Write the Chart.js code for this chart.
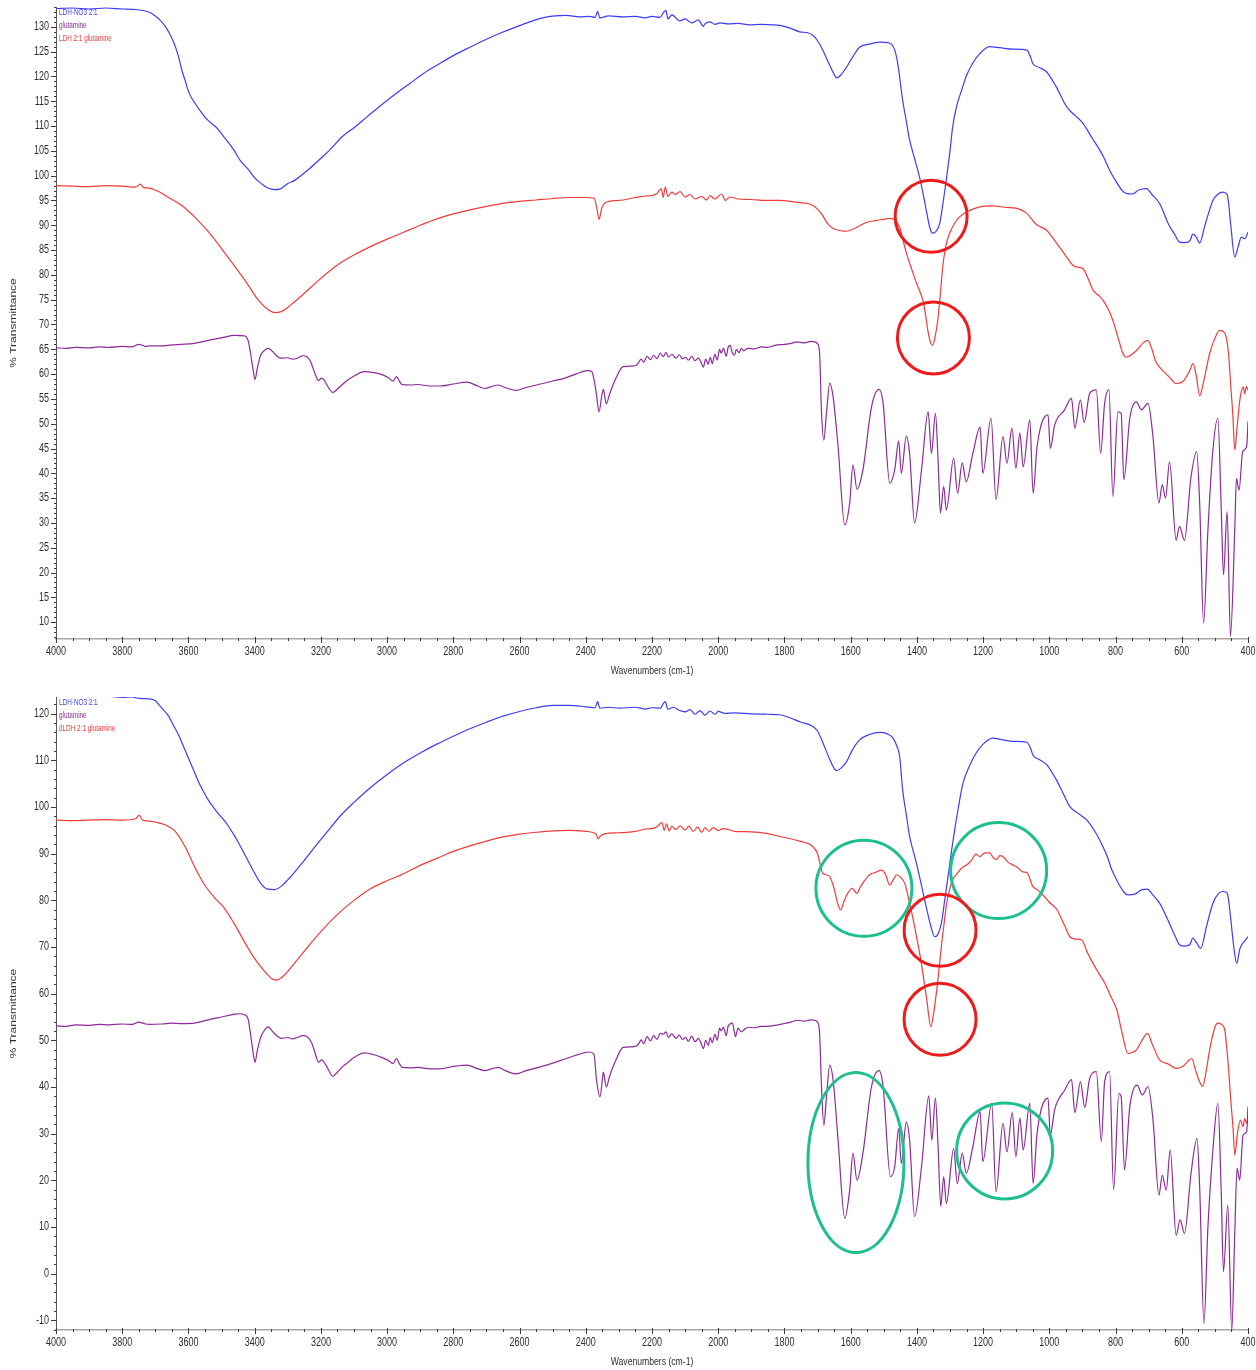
<!DOCTYPE html>
<html>
<head>
<meta charset="utf-8">
<title>FTIR spectra</title>
<script src="https://cdn.jsdelivr.net/npm/chart.js@4.4.1/dist/chart.umd.min.js"></script>
<style>
  html, body { margin: 0; padding: 0; background: #fff; }
  #wrap { position: relative; width: 1256px; height: 1370px; overflow: hidden; }
  .panel { position: absolute; left: 0; width: 1256px; height: 685px; }
</style>
</head>
<body>
<div id="wrap">
  <div class="panel" style="top:0"><canvas id="topChart" width="1256" height="685"></canvas></div>
  <div class="panel" style="top:685px"><canvas id="bottomChart" width="1256" height="685"></canvas></div>
</div>
<script>
// ---- series names ----
const topNames = ['LDH-NO3 2:1', 'glutamine', 'LDH 2:1 glutamine'];
const bottomNames = ['LDH-NO3 2:1', 'glutamine', 'dLDH 2:1 glutamine'];
const xTitle = 'Wavenumbers (cm-1)';
const yTitle = '% Transmittance';

// ---- tick values ----
const xTickValues = [4000, 3800, 3600, 3400, 3200, 3000, 2800, 2600, 2400, 2200, 2000, 1800, 1600, 1400, 1200, 1000, 800, 600, 400];
const topYTickValues = [10, 15, 20, 25, 30, 35, 40, 45, 50, 55, 60, 65, 70, 75, 80, 85, 90, 95, 100, 105, 110, 115, 120, 125, 130];
const bottomYTickValues = [-10, 0, 10, 20, 30, 40, 50, 60, 70, 80, 90, 100, 110, 120];

// ---- upper panel spectra: [wavenumber, %T] ----
const topNitrate = [[4000,133.7],[3950,133.8],[3900,133.6],[3850,133.8],[3800,133.6],[3760,133.5],[3730,133.2],[3716,132.9],[3700,132.2],[3685,131.3],[3671,130.2],[3655,128.4],[3641,126.3],[3630,124],[3620,121.3],[3610,119.2],[3601,117.2],[3590,115.6],[3580,114.6],[3565,113.1],[3550,111.8],[3535,110.8],[3520,110],[3505,108.9],[3490,107.6],[3465,105.4],[3444,103.1],[3420,101.3],[3399,99.5],[3380,98.4],[3360,97.5],[3340,97.2],[3324,97.3],[3300,98.4],[3278,99.1],[3255,100.3],[3233,101.5],[3200,103.5],[3173,105.2],[3135,107.9],[3097,109.8],[3060,111.9],[3022,114],[2980,116.2],[2931,118.6],[2890,120.6],[2841,122.6],[2800,124.2],[2750,125.9],[2700,127.5],[2659,128.7],[2610,130],[2569,131],[2530,131.8],[2493,132.2],[2460,132.3],[2418,132],[2390,132.1],[2372,131.9],[2364,133.1],[2358,131.8],[2330,132.2],[2290,132],[2250,132.1],[2220,131.8],[2200,132.1],[2176,131.9],[2165,132.9],[2158,133.3],[2152,131.6],[2140,132.4],[2116,131.2],[2100,131.6],[2080,130.8],[2060,131.4],[2045,130.1],[2040,130.6],[2025,131],[2010,130.5],[1995,130.8],[1970,130.6],[1940,130.7],[1905,130.4],[1874,130.5],[1840,130.4],[1814,130.3],[1785,129.8],[1754,129],[1730,128.8],[1714,128.3],[1700,127.2],[1684,125.3],[1665,122.5],[1650,120.4],[1642,119.7],[1630,120.3],[1612,121.9],[1595,123.8],[1573,125.9],[1545,126.5],[1512,126.9],[1482,126.7],[1468,125.5],[1458,122.7],[1443,115.2],[1432,111],[1422,107.2],[1405,103],[1392,99.7],[1380,96],[1370,92.4],[1360,89.3],[1352,88.4],[1342,88.8],[1331,90.4],[1320,95],[1310,99.7],[1300,105],[1292,109.8],[1280,114],[1265,117.2],[1250,120.2],[1231,122.7],[1210,124.6],[1180,126],[1150,125.8],[1110,125.5],[1068,125.3],[1055,123.6],[1050,122.6],[1030,121.8],[1008,120.9],[980,118],[947,113.8],[920,112],[899,110.6],[870,107.5],[848,105.2],[835,103.6],[818,101.1],[800,99],[780,97],[767,96.4],[750,96.3],[730,97.1],[707,97.4],[690,96.2],[667,94.4],[640,90.2],[620,88],[607,86.6],[590,86.5],[575,86.9],[567,88.2],[556,87.6],[546,86.4],[530,90],[506,95],[490,96.3],[477,96.7],[465,96.4],[461,95.7],[452,90],[440,83.6],[430,85.6],[420,87.6],[410,87.3],[400,88.6]];

const topGlutamine = [[4000,65.3],[3970,65.2],[3940,65.4],[3900,65.3],[3870,65.5],[3840,65.4],[3800,65.6],[3770,65.5],[3750,66],[3730,65.6],[3716,65.7],[3680,65.7],[3650,65.9],[3620,66],[3582,66.2],[3540,66.8],[3500,67.3],[3460,67.8],[3431,67.7],[3420,66.8],[3413,64.4],[3405,61],[3399,58.9],[3392,61.2],[3382,63.8],[3370,64.8],[3359,65.2],[3345,64.5],[3330,63.5],[3319,63.2],[3300,63.3],[3285,63],[3271,63.2],[3255,63.7],[3242,63.5],[3231,62.5],[3220,60.5],[3207,58.7],[3198,59.2],[3191,58.9],[3180,57.6],[3164,56.3],[3150,57],[3135,57.9],[3123,58.6],[3100,59.6],[3069,60.5],[3040,60.3],[3015,59.9],[2995,59.2],[2982,58.6],[2972,59.5],[2962,58.5],[2955,57.9],[2930,57.8],[2907,57.9],[2870,57.6],[2840,57.6],[2800,58],[2759,58.4],[2730,57.7],[2705,57.1],[2680,57.6],[2665,57.8],[2640,57.2],[2611,56.7],[2580,57.3],[2543,57.9],[2500,58.6],[2463,59.2],[2430,60],[2395,60.7],[2382,60.5],[2374,58.5],[2368,56],[2360,52.4],[2352,55.5],[2347,56.9],[2338,54],[2328,56],[2310,59],[2287,61.5],[2265,61.6],[2247,61.8],[2240,62.4],[2233,63],[2225,62.4],[2215,63.6],[2205,62.9],[2195,63.8],[2185,63.1],[2175,64.2],[2166,63.5],[2158,64.4],[2150,63.4],[2140,64],[2128,63.2],[2118,63.9],[2108,63.1],[2099,63.4],[2090,62.8],[2080,63.6],[2070,62.7],[2060,63.2],[2052,62.4],[2045,61.4],[2038,63],[2030,62],[2024,63.4],[2018,62.1],[2010,64],[2003,62.8],[1996,65],[1991,64.2],[1984,65.2],[1976,63.6],[1970,65.4],[1964,65.8],[1958,64.4],[1951,63.8],[1945,65],[1937,64.3],[1930,65.2],[1923,64.7],[1910,65.2],[1890,65.1],[1870,65.5],[1850,65.4],[1829,65.8],[1800,66],[1780,66.2],[1762,66.5],[1740,66.3],[1720,66.6],[1708,66.5],[1700,66.1],[1694,64.4],[1688,52.2],[1681,46.7],[1673,52.2],[1663,58.2],[1653,55.4],[1638,45.4],[1618,29.6],[1603,34],[1593,41.7],[1581,36.8],[1563,40.7],[1537,53.4],[1514,56.9],[1502,54.1],[1482,38],[1467,40.7],[1455,46.5],[1447,40],[1432,47.5],[1422,44],[1407,30],[1386,40.7],[1366,52.4],[1356,44],[1344,52.1],[1336,42.7],[1329,32],[1319,37.3],[1311,32.6],[1289,43],[1277,36],[1263,42.1],[1251,38.3],[1231,44],[1209,49.3],[1201,40],[1176,51.1],[1161,34.7],[1140,47.4],[1128,42],[1113,49.1],[1101,41],[1089,48.1],[1079,41.3],[1059,50.8],[1049,36],[1037,45.4],[1004,51.8],[997,45],[984,49.7],[954,52.8],[933,55.1],[923,49.1],[906,54.8],[895,50.2],[878,56.1],[858,56.8],[845,44],[833,54.1],[820,56.8],[808,35.3],[793,52.4],[783,52.1],[775,38.7],[757,51.1],[737,54.4],[722,52.8],[702,54.1],[687,47.4],[669,34],[659,37.7],[649,35],[637,42.3],[617,26.5],[607,29.3],[592,26.5],[572,39.3],[555,44.4],[546,34],[534,9.8],[521,28.6],[506,44.7],[491,51.1],[481,33.3],[474,19.5],[463,32.3],[453,7.1],[440,28.6],[435,39],[427,36.6],[416,44.4],[404,45.4],[400,50.5]];

const topComposite = [[4000,98],[3950,97.9],[3900,97.8],[3850,98],[3800,97.9],[3760,97.7],[3745,98.3],[3735,97.6],[3720,97.5],[3690,96.8],[3660,95.6],[3620,94],[3580,91.6],[3540,88.7],[3500,85.3],[3460,81.7],[3420,78],[3390,75],[3360,73],[3340,72.4],[3320,72.6],[3290,74],[3250,76.3],[3200,79.3],[3150,82],[3100,84],[3050,85.7],[3000,87.2],[2950,88.6],[2900,90],[2850,91.3],[2800,92.3],[2750,93.1],[2700,93.8],[2650,94.4],[2600,94.8],[2550,95.1],[2500,95.4],[2450,95.6],[2400,95.6],[2375,95.5],[2366,93.2],[2360,91.2],[2352,93.4],[2340,94.6],[2300,95],[2250,95.6],[2220,95.9],[2200,96],[2185,96.4],[2172,97.4],[2166,95.6],[2160,97.7],[2152,95.8],[2140,96.7],[2130,96.2],[2115,96.8],[2100,95.7],[2085,96.2],[2070,95.3],[2050,95.8],[2035,95.1],[2025,96],[2010,95.3],[1990,96.3],[1978,95],[1965,95.7],[1940,95.3],[1900,95.2],[1860,95],[1814,95],[1760,94.6],[1714,94],[1690,92.5],[1670,90.4],[1654,89.4],[1630,88.9],[1612,88.8],[1590,89.3],[1551,90.6],[1520,91],[1500,91.2],[1482,91.4],[1465,91],[1452,89.6],[1440,86.5],[1431,84.3],[1415,81],[1401,78.3],[1390,76.5],[1382,74.9],[1375,72.5],[1367,68.8],[1358,66.2],[1352,65.8],[1345,67.5],[1337,70.8],[1330,75.5],[1322,81.6],[1312,86],[1301,88.4],[1285,90.5],[1271,91.7],[1240,93],[1210,93.7],[1171,93.9],[1130,93.6],[1098,93.4],[1068,92.4],[1040,90.2],[1008,89],[990,87.5],[977,86.3],[950,83.8],[928,81.9],[910,81.5],[899,81.3],[880,78.8],[868,76.9],[850,75.8],[838,74.9],[820,72.8],[808,70.8],[790,66.8],[778,64.2],[767,63.4],[750,64],[736,64.8],[715,66.4],[703,66.8],[690,65],[680,62.8],[667,61.4],[640,59.6],[616,58.1],[595,58.6],[576,60.7],[566,62.1],[556,59.6],[546,55.6],[535,58.2],[516,64.1],[500,67.2],[486,68.8],[475,68.6],[466,67.5],[458,63.5],[452,57.5],[446,52],[440,44.7],[434,48.5],[427,53.5],[420,56.5],[414,57.4],[410,56],[405,57.5],[400,56.8]];

// ---- lower panel spectra: [wavenumber, %T] ----
const bottomNitrate = [[4000,123.8],[3950,123.9],[3900,123.7],[3850,123.8],[3800,123.5],[3770,123.6],[3750,123.3],[3720,123.2],[3700,122.8],[3690,122],[3675,120.8],[3660,119.5],[3645,117.5],[3630,115.5],[3615,113],[3600,110.5],[3585,108],[3570,105.5],[3555,103.4],[3540,101.5],[3525,100],[3510,98.6],[3495,97.4],[3480,96],[3465,94.3],[3450,92.5],[3435,90.5],[3420,88.5],[3400,85.8],[3380,83.5],[3360,82.4],[3340,82.3],[3320,83],[3300,84.4],[3280,86],[3260,87.7],[3220,91.3],[3180,94.8],[3140,98.2],[3100,101],[3050,104.2],[3000,107],[2950,109.5],[2900,111.6],[2850,113.5],[2800,115.2],[2750,116.8],[2700,118.2],[2650,119.5],[2600,120.5],[2550,121.3],[2500,121.8],[2450,121.8],[2400,121.5],[2372,121.3],[2364,122.6],[2358,121.2],[2330,121.4],[2300,121.2],[2250,121.4],[2220,121],[2200,121.3],[2175,121.2],[2165,122.3],[2160,122.6],[2152,121],[2135,121.4],[2120,120.8],[2100,120.4],[2085,120.9],[2070,119.9],[2055,120.7],[2040,119.7],[2025,120.6],[2010,119.9],[2000,120.5],[1980,120.1],[1950,120.2],[1900,120],[1850,119.9],[1814,119.8],[1785,119.2],[1754,118.3],[1714,117.3],[1700,116.3],[1684,113.8],[1665,110.5],[1650,108.3],[1642,107.8],[1630,108.3],[1612,109.8],[1595,112.2],[1573,114.4],[1545,115.5],[1512,116],[1490,115.7],[1472,114.8],[1460,113],[1452,110.8],[1443,103.7],[1432,98.4],[1422,93.7],[1405,89],[1392,85.1],[1380,81.2],[1370,78],[1358,74.5],[1346,72.2],[1336,72.8],[1326,75.1],[1316,80],[1306,85.1],[1296,90.3],[1286,95.1],[1275,99.8],[1261,105.1],[1240,109],[1221,111.6],[1200,113.5],[1171,114.8],[1140,114.4],[1110,114.1],[1068,113.9],[1055,112.3],[1050,111.2],[1030,110.2],[1008,109.1],[980,106],[960,103.2],[938,100.1],[910,98.5],[888,97.3],[860,94.5],[838,91.5],[825,89.4],[811,86.5],[790,83.5],[775,81.8],[763,81.2],[740,81.4],[720,82.3],[703,82.4],[690,81.4],[667,79.4],[640,75.5],[620,72.3],[607,70.5],[590,70.2],[575,70.6],[567,71.9],[556,71],[543,69.7],[525,74.5],[506,79.4],[490,81.4],[477,81.9],[465,81.7],[461,81.2],[452,76],[443,70],[434,66.5],[425,69.5],[416,70.8],[408,71.5],[400,72.2]];

const bottomGlutamine = [[4000,53.1],[3970,53],[3940,53.3],[3900,53.2],[3870,53.4],[3840,53.3],[3800,53.5],[3770,53.4],[3750,53.9],[3730,53.5],[3716,53.4],[3680,53.5],[3650,53.7],[3620,53.6],[3582,53.7],[3540,54.4],[3500,55],[3460,55.6],[3447,55.7],[3431,55.5],[3420,54.6],[3413,51.6],[3405,47.5],[3399,45.3],[3392,47.8],[3382,50.6],[3370,52.2],[3359,52.9],[3345,51.8],[3330,50.8],[3319,50.4],[3300,50.6],[3285,50.3],[3271,50.6],[3255,51],[3242,50.8],[3228,49.5],[3218,47.4],[3207,45.3],[3198,45.8],[3191,45.4],[3178,43.8],[3164,42.3],[3150,43.2],[3135,44.3],[3123,45],[3100,46.3],[3069,47.3],[3040,46.9],[3015,46.3],[2995,45.6],[2982,45],[2972,46.1],[2962,44.9],[2955,44.2],[2930,44.1],[2907,44.2],[2870,43.9],[2840,43.9],[2800,44.4],[2759,44.7],[2730,44],[2705,43.5],[2680,44],[2665,44.2],[2640,43.4],[2611,42.8],[2580,43.5],[2543,44.2],[2500,45.1],[2463,46],[2430,46.8],[2389,47.5],[2375,47],[2368,41.8],[2357,37.9],[2350,41.5],[2347,43.2],[2338,40],[2328,42.3],[2310,45.6],[2287,48.5],[2265,48.6],[2247,48.8],[2240,49.3],[2233,50.1],[2225,49.3],[2215,50.8],[2205,49.9],[2195,51],[2185,50.2],[2175,51.5],[2166,51.3],[2158,51.8],[2150,50.6],[2140,51.4],[2128,50.4],[2118,51.1],[2108,50.2],[2099,50.6],[2090,49.8],[2080,50.9],[2070,49.7],[2060,50.4],[2052,49.4],[2045,48.2],[2038,50],[2030,48.9],[2024,50.6],[2018,49.5],[2010,51.3],[2003,50],[1996,52.6],[1991,52],[1984,52.8],[1976,51],[1970,53],[1957,53.7],[1952,52],[1948,50.8],[1940,52.6],[1930,51.8],[1923,52.2],[1910,52.8],[1890,52.7],[1870,53],[1850,53],[1829,53.2],[1800,53.6],[1780,53.9],[1762,54.3],[1740,54.1],[1720,54.4],[1708,54.3],[1700,53.9],[1694,51.6],[1688,40],[1681,31.8],[1673,38],[1663,44.7],[1653,41.5],[1638,28.6],[1618,11.8],[1603,17.9],[1593,25.8],[1581,20],[1563,25.8],[1537,40.1],[1514,43.5],[1502,40.1],[1480,20.8],[1467,22.9],[1455,31.1],[1447,23.6],[1432,32.5],[1422,28.6],[1407,12.2],[1386,22.9],[1364,38.1],[1355,28.6],[1344,37.6],[1336,27.2],[1328,14.4],[1319,20.8],[1311,15],[1289,26.8],[1278,19.3],[1263,25.8],[1251,21.5],[1231,27.2],[1209,34.7],[1201,24],[1174,36.5],[1161,17.5],[1140,32.2],[1128,26.1],[1112,34.5],[1101,25],[1089,33.3],[1079,26.5],[1059,36.5],[1049,19.3],[1037,30.1],[1004,37.6],[997,29.7],[984,35.1],[954,39.3],[933,41.6],[923,34.5],[906,41.1],[893,35.6],[878,41.9],[858,43.3],[843,28.3],[833,41.1],[818,43.3],[806,17.9],[790,38.6],[783,37.9],[773,22.2],[757,35.8],[735,40.4],[719,38.3],[702,40.1],[687,33],[669,16.8],[659,21.1],[647,17.9],[635,26.5],[617,8.2],[605,11.5],[592,8.6],[572,21.5],[554,29],[546,18.6],[533,-10.7],[521,10],[506,26.5],[491,36.5],[481,17.9],[474,0.4],[461,14.7],[449,-12.3],[440,8.6],[433,22.6],[425,20],[415,29.7],[404,30.4],[400,35.8]];

const bottomComposite = [[4000,97.2],[3950,97.1],[3900,97.2],[3850,97.3],[3800,97.2],[3760,97.5],[3748,98.3],[3740,97.3],[3720,97],[3700,96.8],[3670,96.2],[3640,94.8],[3610,91.5],[3580,87],[3550,83.2],[3520,80.5],[3490,78.2],[3460,74.8],[3430,71],[3400,67.5],[3370,64.8],[3350,63.3],[3335,62.9],[3310,64],[3280,66.5],[3240,70],[3200,73.3],[3150,77],[3100,80],[3050,82.5],[3000,84.2],[2950,85.7],[2900,87.5],[2850,89],[2800,90.5],[2750,91.7],[2700,92.7],[2650,93.6],[2600,94.2],[2550,94.6],[2500,94.9],[2450,95],[2400,94.8],[2370,94.3],[2362,93.2],[2356,93.8],[2340,94.3],[2300,94.5],[2250,94.8],[2220,95.3],[2200,95.4],[2185,95.8],[2170,96.7],[2163,95],[2156,96.4],[2148,94.9],[2140,95.9],[2128,95.2],[2115,96],[2100,95.1],[2088,95.9],[2076,94.8],[2062,95.7],[2050,94.6],[2040,95.6],[2028,94.8],[2015,95.6],[2000,95],[1985,95.4],[1970,95.2],[1950,94.8],[1900,94.7],[1850,94.3],[1814,93.7],[1760,92.8],[1714,91.5],[1700,90],[1693,88],[1688,86.5],[1684,85.8],[1675,85.5],[1663,85.1],[1650,82.5],[1640,79.5],[1630,78],[1620,79.8],[1609,81.5],[1594,82.6],[1588,82],[1582,81.5],[1570,83],[1555,84.5],[1543,85.5],[1525,86],[1506,86.5],[1495,85.6],[1482,83.3],[1470,84.6],[1461,85.5],[1450,85],[1437,83.7],[1430,82],[1422,79.4],[1410,75.5],[1401,72.2],[1390,68],[1382,64.4],[1370,58.6],[1358,52.9],[1349,56],[1340,60.8],[1332,66],[1325,70.8],[1317,75.5],[1310,79.4],[1300,82.6],[1292,84.4],[1278,85.8],[1265,86.9],[1250,87.6],[1235,88.6],[1222,89.9],[1210,89.4],[1195,90.2],[1180,90.2],[1170,89.2],[1159,88.8],[1150,89.6],[1140,89.4],[1125,88.2],[1110,87.6],[1095,87],[1080,86.1],[1068,86],[1050,83],[1035,82.2],[1020,81.2],[1000,79.6],[977,78],[955,74.8],[938,72.2],[920,71.7],[902,71.5],[885,68.8],[868,66.5],[850,64.3],[832,62.2],[815,59.5],[796,56.5],[780,51.5],[763,47.2],[750,47.4],[736,48],[720,50],[703,51.5],[690,49.3],[667,45.8],[640,44.9],[616,44],[595,44.5],[578,45.8],[570,46.1],[558,43.5],[546,41.1],[537,40.1],[526,43.5],[516,47.9],[500,52.8],[491,53.7],[478,53.3],[470,52.2],[460,45],[452,37.2],[445,31],[440,25.4],[432,30],[423,32.9],[415,31.5],[410,33.2],[404,32.2],[400,33.5]];

// ---- highlight rings: centre in data units (wavenumber, %T), radii in px ----
const topRings = [
  { wn: 1357, t: 91.8, rx: 36, ry: 36, color: '#ee1b1b' },
  { wn: 1350, t: 67.3, rx: 36, ry: 36, color: '#ee1b1b' }
];
const bottomRings = [
  { wn: 1560, t: 82.6, rx: 48, ry: 48, color: '#1dbf8e' },
  { wn: 1153, t: 86.4, rx: 48, ry: 48, color: '#1dbf8e' },
  { wn: 1330, t: 73.6, rx: 36, ry: 36, color: '#ee1b1b' },
  { wn: 1330, t: 54.5, rx: 36, ry: 36, color: '#ee1b1b' },
  { wn: 1584, t: 23.8, rx: 48, ry: 90, color: '#1dbf8e' },
  { wn: 1135, t: 26.3, rx: 48, ry: 48, color: '#1dbf8e' }
];

const COLORS = { nitrate: '#3d3df6', glutamine: '#8e2a99', composite: '#f23b3b' };
const FONT = "'Liberation Sans', Arial, sans-serif";
const SQUEEZE = 0.75;      // instrument software renders its labels in a condensed face
const TEXT_COLOR = '#2e2e2e';

function toPoints(pairs) { return pairs.map(p => ({ x: p[0], y: p[1] })); }

// text drawn horizontally condensed
function squeezedText(ctx, text, x, y, align, rotate) {
  ctx.save();
  ctx.translate(x, y);
  ctx.scale(SQUEEZE, 1);
  if (rotate) ctx.rotate(-Math.PI / 2);
  ctx.textAlign = align;
  ctx.fillText(text, 0, 0);
  ctx.restore();
}

// axis tick marks (major + minor), tick labels and axis titles
const axisDecor = {
  id: 'axisDecor',
  afterDraw(chart, args, opts) {
    const { ctx, chartArea: a, scales: { x, y } } = chart;
    ctx.save();
    ctx.strokeStyle = '#3a3a3a';
    ctx.lineWidth = 1;
    for (let v = 400; v <= 4000; v += 50) {
      const px = Math.round(x.getPixelForValue(v)) + 0.5;
      const major = v % 200 === 0;
      ctx.beginPath();
      ctx.moveTo(px, a.bottom - (major ? 2 : 1));
      ctx.lineTo(px, a.bottom + (major ? 4 : 2));
      ctx.stroke();
    }
    for (let v = Math.ceil(y.min); v <= y.max; v += opts.minorStep) {
      const py = Math.round(y.getPixelForValue(v)) + 0.5;
      const major = v % opts.majorStep === 0;
      ctx.beginPath();
      ctx.moveTo(a.left - (major ? 5 : 2), py);
      ctx.lineTo(a.left + (major ? 1 : 0), py);
      ctx.stroke();
    }

    ctx.fillStyle = TEXT_COLOR;
    ctx.textBaseline = 'middle';
    ctx.font = '12px ' + FONT;
    xTickValues.forEach(v => squeezedText(ctx, String(v), x.getPixelForValue(v), a.bottom + 13, 'center'));
    opts.yTicks.forEach(v => squeezedText(ctx, String(v), a.left - 7, y.getPixelForValue(v), 'right'));

    ctx.font = '11.5px ' + FONT;
    squeezedText(ctx, xTitle, (a.left + a.right) / 2, a.bottom + 32, 'center');
    ctx.font = '12px ' + FONT;
    squeezedText(ctx, yTitle, 14, (a.top + a.bottom) / 2, 'center', true);
    ctx.restore();
  }
};

// series names written in the upper-left corner of the plot, in series colours
const cornerLegend = {
  id: 'cornerLegend',
  afterDatasetsDraw(chart) {
    const { ctx, chartArea: a } = chart;
    ctx.save();
    ctx.font = '8.5px ' + FONT;
    ctx.textBaseline = 'middle';
    chart.data.datasets.forEach((ds, i) => {
      ctx.fillStyle = ds.borderColor;
      squeezedText(ctx, ds.label, a.left + 3, a.top + 6 + i * 13, 'left');
    });
    ctx.restore();
  }
};

// rings around the bands of interest
const rings = {
  id: 'rings',
  afterDatasetsDraw(chart, args, opts) {
    const { ctx, scales: { x, y } } = chart;
    ctx.save();
    ctx.lineWidth = 3;
    (opts.items || []).forEach(r => {
      ctx.strokeStyle = r.color;
      ctx.beginPath();
      ctx.ellipse(x.getPixelForValue(r.wn), y.getPixelForValue(r.t), r.rx, r.ry, 0, 0, Math.PI * 2);
      ctx.stroke();
    });
    ctx.restore();
  }
};

function buildPanel(canvasId, cfg) {
  const datasets = [
    { label: cfg.names[0], data: toPoints(cfg.nitrate), borderColor: COLORS.nitrate },
    { label: cfg.names[1], data: toPoints(cfg.glutamine), borderColor: COLORS.glutamine },
    { label: cfg.names[2], data: toPoints(cfg.composite), borderColor: COLORS.composite }
  ].map(d => Object.assign(d, { borderWidth: 1.2, pointRadius: 0, cubicInterpolationMode: 'monotone', fill: false }));

  return new Chart(document.getElementById(canvasId), {
    type: 'line',
    data: { datasets },
    plugins: [axisDecor, cornerLegend, rings],
    options: {
      responsive: false,
      animation: false,
      devicePixelRatio: 1,
      layout: { padding: { top: cfg.padTop, right: 8, left: 0, bottom: 0 } },
      plugins: {
        legend: { display: false },
        tooltip: { enabled: false },
        axisDecor: { minorStep: cfg.minorStep, majorStep: cfg.majorStep, yTicks: cfg.yTicks },
        rings: { items: cfg.rings }
      },
      scales: {
        x: {
          type: 'linear',
          reverse: true,
          min: 400,
          max: 4000,
          afterBuildTicks: s => { s.ticks = xTickValues.map(v => ({ value: v })); },
          afterFit: s => { s.height = cfg.xAxisHeight; s.paddingLeft = 0; s.paddingRight = 0; },
          grid: { display: false, drawTicks: false },
          border: { display: true, color: '#a8a8a8', width: 1.5 },
          ticks: { display: false },
          title: { display: false }
        },
        y: {
          type: 'linear',
          min: cfg.yMin,
          max: cfg.yMax,
          afterBuildTicks: s => { s.ticks = cfg.yTicks.map(v => ({ value: v })); },
          afterFit: s => { s.width = 56; s.paddingTop = 0; s.paddingBottom = 0; },
          grid: { display: false, drawTicks: false },
          border: { display: true, color: '#555', width: 1, dash: [1, 2] },
          ticks: { display: false },
          title: { display: false }
        }
      }
    }
  });
}

buildPanel('topChart', {
  names: topNames, nitrate: topNitrate, glutamine: topGlutamine, composite: topComposite,
  yMin: 6.6, yMax: 134, yTicks: topYTickValues, minorStep: 1, majorStep: 5,
  padTop: 7, xAxisHeight: 46, rings: topRings
});

buildPanel('bottomChart', {
  names: bottomNames, nitrate: bottomNitrate, glutamine: bottomGlutamine, composite: bottomComposite,
  yMin: -12.1, yMax: 123.6, yTicks: bottomYTickValues, minorStep: 2, majorStep: 10,
  padTop: 12, xAxisHeight: 40, rings: bottomRings
});
</script>
</body>
</html>
